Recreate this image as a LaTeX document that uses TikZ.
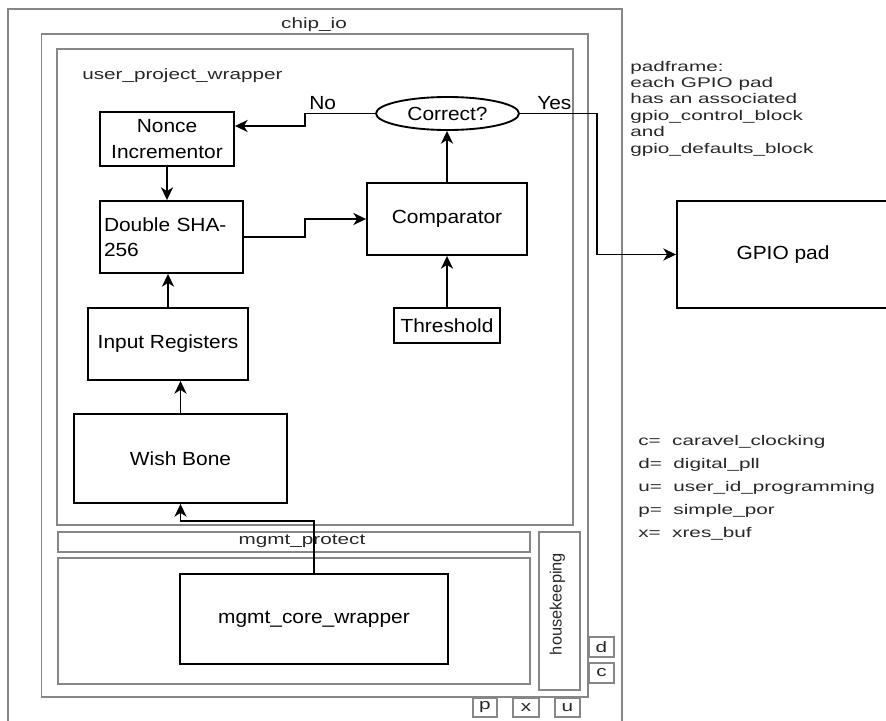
\documentclass[tikz,border=0pt]{standalone}
\usepackage{fontspec}
\setmainfont{Liberation Sans}
\newfontfamily\boxfont[FakeStretch=1.1]{Liberation Sans}
\newfontfamily\framefont[FakeStretch=1.38]{Liberation Sans}
\newfontfamily\notefont[FakeStretch=1.48]{Liberation Sans}
\usetikzlibrary{arrows.meta,shapes.geometric}
\definecolor{framegray}{RGB}{135,135,135}
\definecolor{frametext}{RGB}{40,40,40}

\begin{document}
\begin{tikzpicture}[x=0.75pt,y=-0.75pt,
  frame/.style={draw=framegray, line width=1.4pt},
  framelbl/.style={inner sep=0pt, text=frametext, font=\framefont\fontsize{11.25pt}{13pt}\selectfont},
  pin/.style={frame, inner sep=0pt, text=frametext, font=\framefont\fontsize{11.25pt}{13pt}\selectfont},
  blk/.style={draw=black, line width=1.4pt, inner sep=0pt, align=center,
    font=\boxfont\fontsize{14.25pt}{19.5pt}\selectfont},
  lbl/.style={inner sep=0pt, font=\boxfont\fontsize{14.25pt}{17pt}\selectfont},
  conn/.style={draw=black, line width=1.4pt, -{Stealth[length=9.5pt, width=9pt, inset=2.8pt]}},
  note/.style={inner sep=0pt, anchor=base west, text=frametext, font=\notefont\fontsize{10.5pt}{12.3pt}\selectfont}]

\useasboundingbox (0,0) rectangle (886,721);
\clip (0,0) rectangle (886,721);

% containers of the chip
\draw[frame] (8,9) rectangle (622,740);
\draw[frame] (41.5,34) rectangle (588,697);
\draw[frame] (57,49) rectangle (573,525);
\draw[frame] (58,532) rectangle (530,552);
\draw[frame] (58,558) rectangle (530,684);
\draw[frame] (539,532) rectangle (580,690);

\node[framelbl] (chipio) at (314,25) {chip\_io};
\node[framelbl, anchor=west] (upw) at (82,76) {user\_project\_wrapper};
\node[framelbl] (mprot) at (302,541) {mgmt\_protect};
\node[inner sep=0pt, text=frametext, rotate=90, font=\fontsize{12.3pt}{14pt}\selectfont] (hk) at (557.5,604) {housekeeping};

% small blocks around the core
\node[pin, minimum width=18.75pt, minimum height=15pt] (pd) at (601.5,647) {d};
\node[pin, minimum width=18.75pt, minimum height=15pt] (pc) at (601.5,673) {c};
\node[pin, minimum width=18pt, minimum height=14.25pt] (pp) at (485,707.5) {p};
\node[pin, minimum width=19.5pt, minimum height=14.25pt] (px) at (526,707.5) {x};
\node[pin, minimum width=18.75pt, minimum height=14.25pt] (pu) at (567.5,707.5) {u};

% flow blocks
\node[blk, ellipse, minimum width=107.25pt, minimum height=24.75pt] (ell) at (447.5,113.5) {Correct?};
\node[blk, minimum width=100.5pt, minimum height=40.5pt] (nonce) at (167,139) {Nonce\\Incrementor};
\node[blk, minimum width=107.25pt, minimum height=54pt, text width=101.25pt, align=left,
  font=\boxfont\fontsize{14.25pt}{18.75pt}\selectfont] (sha) at (171.5,237) {Double SHA-\\256};
\node[blk, minimum width=120pt, minimum height=54pt] (comp) at (447,219) {Comparator};
\node[blk, minimum width=79.5pt, minimum height=26.25pt] (thr) at (447,325.5) {Threshold};
\node[blk, minimum width=120pt, minimum height=54pt] (ir) at (168,344) {Input Registers};
\node[blk, minimum width=159.75pt, minimum height=66.75pt] (wb) at (180.5,458.5) {Wish Bone};
\node[blk, minimum width=201pt, minimum height=67.5pt] (core) at (314,619) {mgmt\_core\_wrapper};
\node[blk, minimum width=159pt, minimum height=80.25pt] (gpio) at (783,254.5) {GPIO pad};

% connectors
\coordinate (nojog) at (305,126);
\coordinate (shajog) at (305,219);
\coordinate (yesjog) at (597,254.5);
\coordinate (wbjog) at (314,521);

\draw[conn] (ell.west) -| (nojog) -- (nonce.east |- nojog);
\draw[conn] (nonce.south) -- (nonce.south |- sha.north);
\draw[conn] (sha.east) -| (shajog) -- (comp.west);
\draw[conn] (comp.north) -- (comp.north |- ell.south);
\draw[conn] (thr.north) -- (thr.north |- comp.south);
\draw[conn] (ir.north) -- (ir.north |- sha.south);
\draw[conn] (wb.north) -- (wb.north |- ir.south);
\draw[conn] (core.north) -- (wbjog) -| (wb.south);
\draw[conn] (ell.east) -| (yesjog) -- (gpio.west);

\node[lbl, anchor=base west] (nolbl) at (309,109) {No};
\node[lbl, anchor=base west] (yeslbl) at (537,109) {Yes};

% padframe note
\node[note] (pf1) at (630,71) {padframe:};
\node[note] (pf2) at (630,87.4) {each GPIO pad};
\node[note] (pf3) at (630,103.8) {has an associated};
\node[note] (pf4) at (630,120.2) {gpio\_control\_block};
\node[note] (pf5) at (630,136.6) {and};
\node[note] (pf6) at (630,153) {gpio\_defaults\_block};

% key of the small blocks
\node[note] (k1) at (638,445) {c=\ \ caravel\_clocking};
\node[note] (k2) at (638,468) {d=\ \ digital\_pll};
\node[note] (k3) at (638,491) {u=\ \ user\_id\_programming};
\node[note] (k4) at (638,514) {p=\ \ simple\_por};
\node[note] (k5) at (638,537) {x=\ \ xres\_buf};
\end{tikzpicture}
\end{document}
